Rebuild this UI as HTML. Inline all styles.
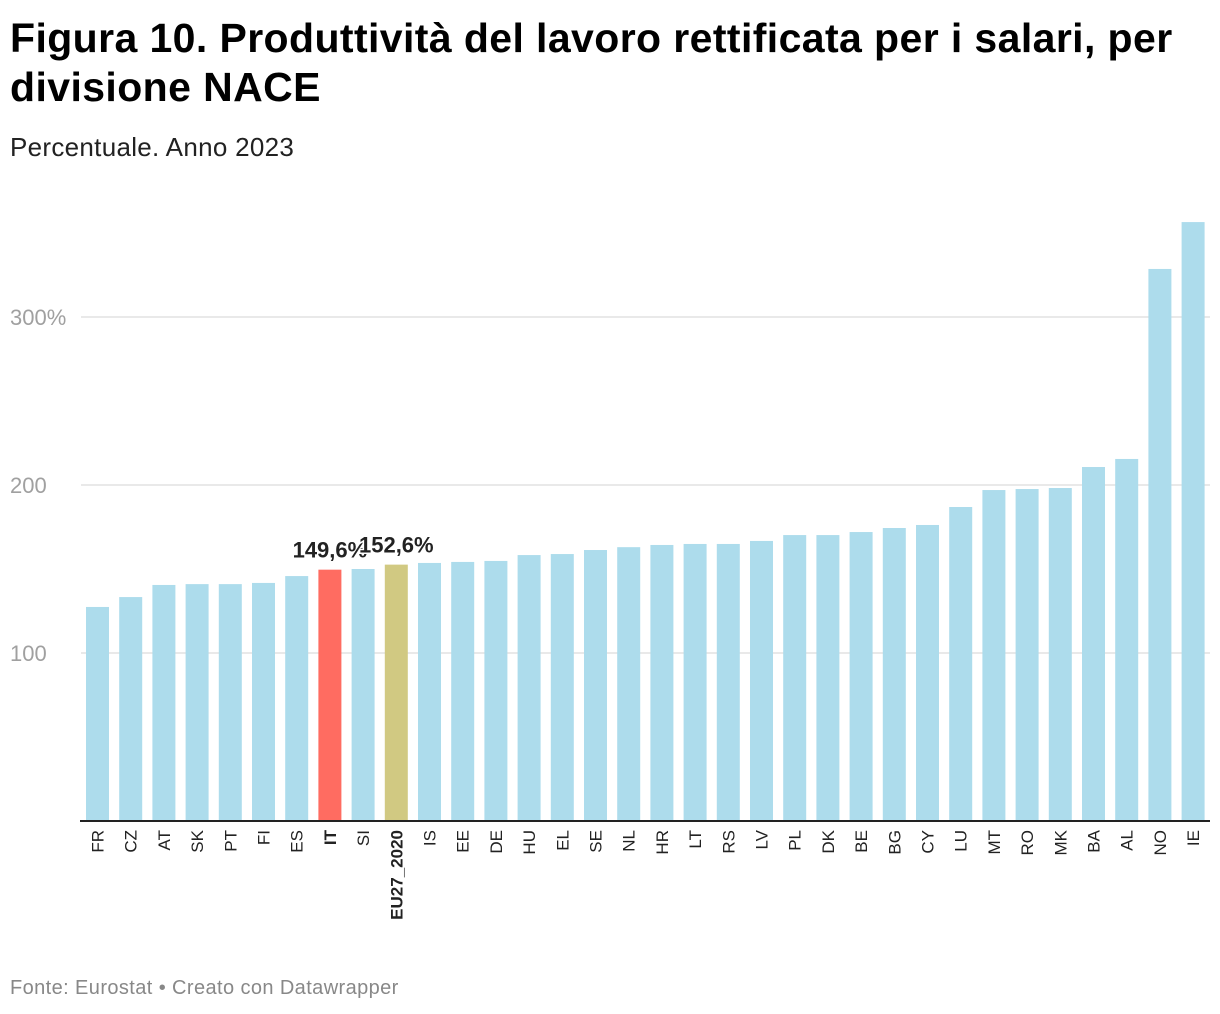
<!DOCTYPE html>
<html><head><meta charset="utf-8"><style>
body{margin:0;background:#fff;font-family:"Liberation Sans",Arial,sans-serif;}
#wrap{position:relative;width:1220px;height:1014px;}
h1{position:absolute;left:10px;top:14px;margin:0;font-size:41px;line-height:49px;font-weight:bold;color:#000;width:1205px;letter-spacing:0.4px}
.sub{position:absolute;left:10px;top:132px;font-size:26px;color:#222;letter-spacing:0.3px}
.foot{position:absolute;left:10px;top:977px;font-size:20px;color:#888;letter-spacing:0.4px}
</style></head><body>
<div id="wrap">
<h1>Figura 10. Produttività del lavoro rettificata per i salari, per divisione NACE</h1>
<div class="sub">Percentuale. Anno 2023</div>
<svg id="chart" width="1220" height="1014" style="position:absolute;left:0;top:0"></svg>
<div class="foot">Fonte: Eurostat • Creato con Datawrapper</div>
</div>
<script>
const categories=["FR","CZ","AT","SK","PT","FI","ES","IT","SI","EU27_2020","IS","EE","DE","HU","EL","SE","NL","HR","LT","RS","LV","PL","DK","BE","BG","CY","LU","MT","RO","MK","BA","AL","NO","IE"];
const values=[127.4,133.3,140.5,141,141,141.7,145.8,149.6,150,152.6,153.6,154.2,154.8,158.3,158.9,161.3,163,164.3,164.9,164.9,166.7,170.2,170.2,172,174.4,176.2,186.9,197,197.6,198.2,210.7,215.5,328.6,356.5];
const tickValues=[100,200,300];
const tickLabels=["100","200","300%"];
const highlight={"IT":"#ff6c61","EU27_2020":"#d1c982"};
const valueLabels={"IT":"149,6%","EU27_2020":"152,6%"};
const NS="http://www.w3.org/2000/svg";
const svg=document.getElementById('chart');
const y0=821,pxPer=1.68,x0=97.5,step=33.2,bw=23;
const yS=v=>y0-v*pxPer;
const xS=i=>x0+i*step;
function mk(t,a){const e=document.createElementNS(NS,t);for(const k in a)e.setAttribute(k,a[k]);svg.appendChild(e);return e;}
tickValues.forEach((v,i)=>{
 const l=mk('line',{x1:81,x2:1210,y1:yS(v),y2:yS(v),stroke:'#e2e2e2','stroke-width':1.5});
 
 
 const t=mk('text',{x:10,y:yS(v)+8,'font-size':22,fill:'#a0a0a0','font-family':'Liberation Sans, sans-serif'});
 t.textContent=tickLabels[i];
 
 
});
categories.forEach((c,i)=>{
 const r=mk('rect',{x:xS(i)-bw/2,y:yS(values[i]),width:bw,height:values[i]*pxPer,fill:highlight[c]||'#addcec'});
 
 
 const bold=highlight[c]?'bold':'normal';
 const t=mk('text',{transform:`translate(${xS(i)+6},830) rotate(-90)`,'text-anchor':'end','font-size':17,'font-weight':bold,fill:'#222','font-family':'Liberation Sans, sans-serif'});
 t.textContent=c;
 
 
});
const ax=mk('line',{x1:80,x2:1210,y1:y0,y2:y0,stroke:'#222','stroke-width':2});


categories.forEach((c,i)=>{
 if(!valueLabels[c])return;
 const t=mk('text',{x:xS(i),y:yS(values[i])-12,'text-anchor':'middle','font-size':22,'font-weight':'bold',fill:'#222',stroke:'#fff','stroke-width':3,'paint-order':'stroke','font-family':'Liberation Sans, sans-serif'});
 t.textContent=valueLabels[c];
 
 
});
</script>
</body></html>
